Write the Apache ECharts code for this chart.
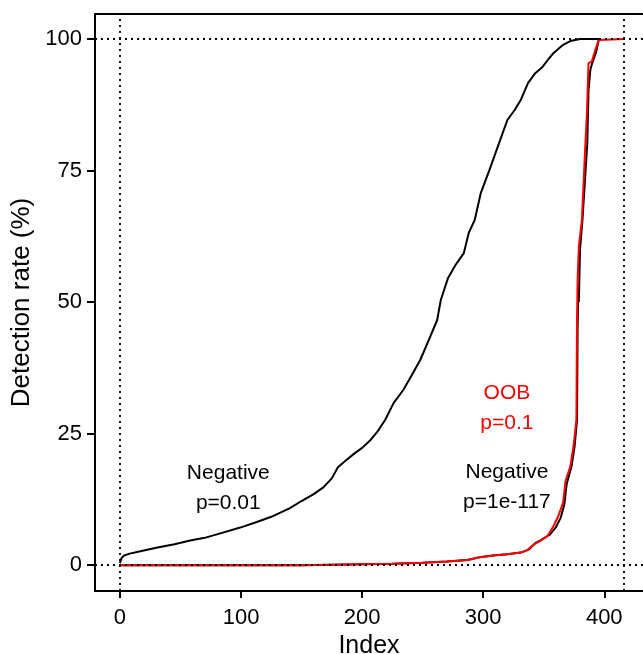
<!DOCTYPE html>
<html>
<head>
<meta charset="utf-8">
<script src="https://cdn.jsdelivr.net/npm/echarts@6/dist/echarts.min.js"></script>
<style>html,body{margin:0;padding:0;background:#fff}#c{width:643px;height:654px}</style>
</head>
<body>
<div id="c"></div>
<script>
// Negative (p=0.01) — black, early rise
var negA = [[0,0.4],[1,1.2],[3,1.8],[8,2.2],[16,2.6],[30,3.3],[45,4.0],[58,4.7],[70,5.2],[85,6.2],[100,7.2],[113,8.2],[125,9.2],[140,10.8],[150,12.2],[160,13.5],[168,14.8],[175,16.5],[180,18.6],[186,19.8],[194,21.3],[200,22.3],[207,23.8],[213,25.5],[219,27.6],[226,30.8],[234,33.3],[241,36.1],[248,39.0],[256,43.3],[262,46.6],[265,50.4],[271,54.6],[277,57.0],[284,59.3],[288,63.1],[293,65.6],[298,70.7],[305,75.0],[312,79.5],[320,84.6],[326,86.5],[331,88.4],[337,91.6],[343,93.5],[349,94.7],[354,96.2],[358,97.3],[366,98.9],[372,99.6],[380,100],[397,100]];
// Negative (p=1e-117) — black, late rise
var negB = [[0,0],[150,0],[175,0.1],[200,0.2],[225,0.3],[250,0.45],[270,0.7],[287,1.0],[297,1.5],[310,1.9],[320,2.1],[331,2.4],[338,3.0],[343,4.2],[348,4.8],[355,5.8],[360,7.2],[364,9.0],[367,11.5],[369,15.5],[373,18.8],[375.5,22.6],[377.5,27.6],[378,45],[378.5,52.5],[379,50],[380,60],[382,65.6],[386,80.2],[387,90.3],[388.5,94.1],[390,95.4],[393,97.3],[395.5,99.8],[397,100]];
// OOB (p=0.1) — red
var oob = [[0,0],[150,0],[175,0.1],[200,0.2],[225,0.3],[250,0.45],[270,0.7],[287,1.0],[297,1.5],[310,1.9],[320,2.1],[331,2.4],[336,2.8],[341,3.8],[347,4.6],[353,5.5],[358,7.4],[362,9.3],[366,11.9],[368,16],[372,18.8],[374.6,22.6],[377,27.6],[377.5,46.6],[378,54.2],[379,60.5],[381.5,65.6],[384.3,79.5],[385.7,85.9],[387,95.4],[389.7,95.7],[392.6,97.9],[395.3,99.8],[416,100]];

var xTicks = [0,100,200,300,400];
var yTicks = [0,25,50,75,100];
var refX = [0,416];
var refY = [0,100];
var annotations = [
  {x:89.5, y:14.7, text:'Negative\np=0.01', color:'#000'},
  {x:319.6, y:29.9, text:'OOB\np=0.1', color:'#ff0000'},
  {x:319.6, y:14.8, text:'Negative\np=1e-117', color:'#000'}
];

var FONT = '"Liberation Sans", Arial, sans-serif';
var chart = echarts.init(document.getElementById('c'), null, {renderer:'canvas'});

var markData = refX.map(function(v){return {xAxis:v};}).concat(refY.map(function(v){return {yAxis:v};}));

var series = [
  {type:'line', data:negA, showSymbol:false, symbol:'none', lineStyle:{color:'#000', width:2}, z:2,
   markLine:{silent:true, symbol:'none', label:{show:false}, lineStyle:{color:'#000', type:[2,4], width:1.8}, data:markData, animation:false}},
  {type:'line', data:negB, showSymbol:false, symbol:'none', lineStyle:{color:'#000', width:2}, z:3},
  {type:'line', data:oob, showSymbol:false, symbol:'none', lineStyle:{color:'#ff0000', width:2}, z:4}
];
annotations.forEach(function(a){
  series.push({type:'scatter', data:[[a.x,a.y]], symbolSize:0, silent:true, z:5,
    itemStyle:{opacity:1, color:a.color},
    label:{show:true, position:'inside', formatter:a.text, color:a.color, opacity:1, textBorderWidth:0, fontFamily:FONT, fontSize:21, lineHeight:30, align:'center', verticalAlign:'middle'}});
});

chart.setOption({
  animation:false,
  backgroundColor:'#fff',
  grid:{left:95, right:0, top:14, bottom:63, containLabel:false, outerBoundsMode:'none'},
  xAxis:[{
    type:'value', min:-20.6, max:432, position:'bottom',
    name:'Index', nameLocation:'middle', nameGap:40,
    nameTextStyle:{fontFamily:FONT, fontSize:25, color:'#000'},
    axisLine:{show:true, onZero:false, lineStyle:{color:'#000', width:2}},
    axisTick:{show:true, length:7, lineStyle:{color:'#000', width:2}, customValues:xTicks},
    axisLabel:{fontFamily:FONT, fontSize:22, color:'#000', margin:16, customValues:xTicks},
    splitLine:{show:false}
  },{
    type:'value', min:-20.6, max:432, position:'top',
    axisLine:{show:true, onZero:false, lineStyle:{color:'#000', width:2}},
    axisTick:{show:false}, axisLabel:{show:false}, splitLine:{show:false}
  }],
  yAxis:{
    type:'value', min:-4.9, max:104.75,
    name:'Detection rate (%)', nameLocation:'middle', nameGap:53, nameRotate:90,
    nameTextStyle:{fontFamily:FONT, fontSize:26, color:'#000'},
    axisLine:{show:true, onZero:false, lineStyle:{color:'#000', width:2}},
    axisTick:{show:true, length:8, lineStyle:{color:'#000', width:2}, customValues:yTicks},
    axisLabel:{fontFamily:FONT, fontSize:22, color:'#000', margin:13, customValues:yTicks},
    splitLine:{show:false}
  },
  series:series
});
</script>
</body>
</html>
